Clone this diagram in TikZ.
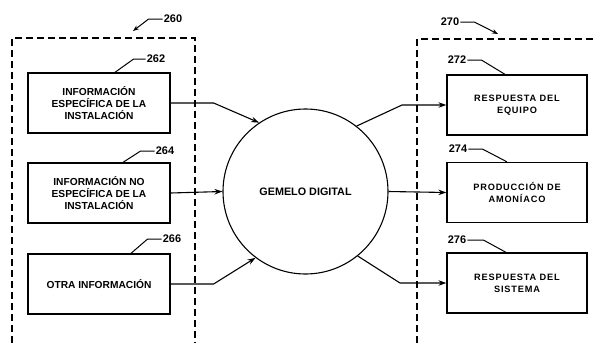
\documentclass[tikz,border=0pt]{standalone}
\usepackage{fontspec}
\setmainfont{Liberation Sans}
\usetikzlibrary{arrows.meta}
\begin{document}
\begin{tikzpicture}[x=1pt,y=-1pt,
  box/.style={draw,line width=1.3pt,minimum width=142pt,minimum height=60pt,align=center,inner sep=2pt},
  ltxt/.style={font=\bfseries\fontsize{10.2}{11.7}\selectfont},
  rtxt/.style={font=\bfseries\fontsize{9.2}{11.7}\selectfont\addfontfeatures{LetterSpace=9}},
  twin/.style={draw,circle,line width=1.1pt,minimum size=165pt,inner sep=0pt,font=\bfseries\fontsize{10.8}{12}\selectfont},
  lab/.style={font=\bfseries\fontsize{11}{12}\selectfont,inner sep=1pt},
  grp/.style={dash pattern=on 7pt off 4pt,line width=1.2pt},
  conn/.style={line width=1.1pt,-{Stealth[length=8pt,width=5.5pt]}},
  lead/.style={line width=1pt},
  leadarr/.style={line width=1pt,-{Stealth[length=6pt,width=4.5pt]}}]
\useasboundingbox (0,0) rectangle (595,343);
% group boxes
\draw[grp] (12,343) -- (12,38) -- (195,38) -- (195,343);
\draw[grp] (417,343) -- (417,39) -- (596,39);
% left boxes
\node[box,ltxt] (b262) at (99,103) {INFORMACIÓN\\ESPECÍFICA DE LA\\INSTALACIÓN};
\node[box,ltxt] (b264) at (99,193) {INFORMACIÓN NO\\ESPECÍFICA DE LA\\INSTALACIÓN};
\node[box,ltxt] (b266) at (99,284) {OTRA INFORMACIÓN};
% twin
\node[twin] (twin) at (305.5,191.5) {GEMELO DIGITAL};
% right boxes
\node[box,rtxt,minimum width=140pt] (b272) at (517,105) {RESPUESTA DEL\\EQUIPO};
\node[box,rtxt,minimum width=140pt] (b274) at (517,192.5) {PRODUCCIÓN DE\\AMONÍACO};
\node[box,rtxt,minimum width=140pt] (b276) at (517,283) {RESPUESTA DEL\\SISTEMA};
% connectors
\draw[conn] (b262.east) -- ++(43,0) -- (twin.124);
\draw[conn] (b264.east) -- (twin.west);
\draw[conn] (b266.east) -- ++(43,0) -- (twin.233);
\draw[conn] (twin.52) -- (402,105) -- (b272.west);
\draw[conn] (twin.east) -- (b274.west);
\draw[conn] (twin.-51) -- (400,283) -- (b276.west);
% labels
\node[lab] (l260) at (173,19) {260};
\coordinate (a260) at (133,31);
\draw[leadarr] (l260.west) -- ++(-14,0) -- (a260);
\node[lab] (l270) at (450,22) {270};
\coordinate (a270) at (498,34);
\draw[leadarr] (l270.east) -- ++(14,0) -- (a270);
\node[lab] (l262) at (156,59) {262};
\draw[lead] (l262.west) -- ++(-12,0) -- ([xshift=16pt]b262.north);
\node[lab] (l264) at (165,151) {264};
\draw[lead] (l264.west) -- ++(-14,0) -- ([xshift=24pt]b264.north);
\node[lab] (l266) at (172,239) {266};
\draw[lead] (l266.west) -- ++(-14,0) -- ([xshift=32pt]b266.north);
\node[lab] (l272) at (457,60) {272};
\draw[lead] (l272.east) -- ++(14,0) -- ([xshift=-12pt]b272.north);
\node[lab] (l274) at (458,149) {274};
\draw[lead] (l274.east) -- ++(14,0) -- ([xshift=-10pt]b274.north);
\node[lab] (l276) at (457,240) {276};
\draw[lead] (l276.east) -- ++(16,0) -- ([xshift=-11pt]b276.north);
\end{tikzpicture}
\end{document}
